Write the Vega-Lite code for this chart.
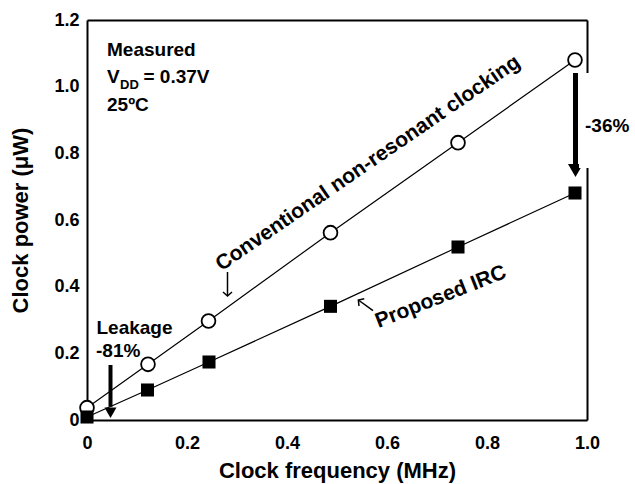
{
  "$schema": "https://vega.github.io/schema/vega-lite/v6.json",
  "width": 500,
  "height": 400,
  "autosize": {"type": "none"},
  "padding": {"left": 87, "top": 20, "right": 48, "bottom": 64},
  "background": "white",
  "config": {
    "view": {"stroke": null},
    "font": "Liberation Sans",
    "axis": {
      "domainColor": "black", "domainWidth": 2, "ticks": false,
      "labelFont": "Liberation Sans", "labelFontSize": 18, "labelFontWeight": "bold", "labelColor": "black",
      "titleFont": "Liberation Sans", "titleFontSize": 22, "titleFontWeight": "bold", "titleColor": "black",
      "grid": false, "zindex": 0, "labelOverlap": false, "labelFlush": false, "labelBound": false
    }
  },
  "datasets": {
    "series": [
      {"x": 0, "y": 0.037, "series": "Conventional"},
      {"x": 0.122, "y": 0.167, "series": "Conventional"},
      {"x": 0.243, "y": 0.297, "series": "Conventional"},
      {"x": 0.487, "y": 0.562, "series": "Conventional"},
      {"x": 0.742, "y": 0.832, "series": "Conventional"},
      {"x": 0.976, "y": 1.08, "series": "Conventional"},
      {"x": 0, "y": 0.009, "series": "Proposed"},
      {"x": 0.121, "y": 0.09, "series": "Proposed"},
      {"x": 0.244, "y": 0.174, "series": "Proposed"},
      {"x": 0.487, "y": 0.341, "series": "Proposed"},
      {"x": 0.742, "y": 0.519, "series": "Proposed"},
      {"x": 0.976, "y": 0.681, "series": "Proposed"}
    ],
    "xMaj": [{"x": 0.2}, {"x": 0.4}, {"x": 0.6}, {"x": 0.8}],
    "xMin": [{"x": 0.1}, {"x": 0.3}, {"x": 0.5}, {"x": 0.7}, {"x": 0.9}],
    "yMaj": [{"y": 0.2}, {"y": 0.4}, {"y": 0.6}, {"y": 0.8}, {"y": 1.0}],
    "yMin": [{"y": 0.1}, {"y": 0.3}, {"y": 0.5}, {"y": 0.7}, {"y": 0.9}, {"y": 1.1}]
  },
  "layer": [
    {
      "encoding": {
        "x": {"field": "x", "type": "quantitative",
          "scale": {"domain": [0, 1], "nice": false, "zero": false},
          "axis": {"orient": "bottom", "title": "Clock frequency (MHz)",
            "values": [0, 0.2, 0.4, 0.6, 0.8, 1.0],
            "labelExpr": "datum.value == 0 ? '0' : format(datum.value, '.1f')",
            "labelPadding": 14, "titlePadding": 8}},
        "y": {"field": "y", "type": "quantitative",
          "scale": {"domain": [0, 1.2], "nice": false, "zero": false},
          "axis": {"orient": "left", "title": "Clock power  (μW)",
            "values": [0, 0.2, 0.4, 0.6, 0.8, 1.0, 1.2],
            "labelExpr": "datum.value == 0 ? '0' : format(datum.value, '.1f')",
            "labelPadding": 8, "titlePadding": 21}}
      },
      "layer": [
        {
          "data": {"name": "xMaj"},
          "mark": {"type": "rule", "color": "black", "strokeWidth": 2.2},
          "encoding": {"y": {"datum": 0}, "y2": {"datum": 0.021}}
        },
        {
          "data": {"name": "xMaj"},
          "mark": {"type": "rule", "color": "black", "strokeWidth": 2.2},
          "encoding": {"y": {"datum": 1.2}, "y2": {"datum": 1.179}}
        },
        {
          "data": {"name": "xMin"},
          "mark": {"type": "rule", "color": "black", "strokeWidth": 2.2},
          "encoding": {"y": {"datum": 0}, "y2": {"datum": 0.013}}
        },
        {
          "data": {"name": "xMin"},
          "mark": {"type": "rule", "color": "black", "strokeWidth": 2.2},
          "encoding": {"y": {"datum": 1.2}, "y2": {"datum": 1.187}}
        },
        {
          "data": {"name": "yMaj"},
          "mark": {"type": "rule", "color": "black", "strokeWidth": 2.2},
          "encoding": {"x": {"datum": 0}, "x2": {"datum": 0.014}}
        },
        {
          "data": {"name": "yMaj"},
          "mark": {"type": "rule", "color": "black", "strokeWidth": 2.2},
          "encoding": {"x": {"datum": 1}, "x2": {"datum": 0.986}}
        },
        {
          "data": {"name": "yMin"},
          "mark": {"type": "rule", "color": "black", "strokeWidth": 2.2},
          "encoding": {"x": {"datum": 0}, "x2": {"datum": 0.009}}
        },
        {
          "data": {"name": "yMin"},
          "mark": {"type": "rule", "color": "black", "strokeWidth": 2.2},
          "encoding": {"x": {"datum": 1}, "x2": {"datum": 0.991}}
        },
        {
          "data": {"name": "series"},
          "mark": {"type": "line", "color": "black", "strokeWidth": 1.2},
          "encoding": {"detail": {"field": "series", "type": "nominal"}}
        },
        {
          "data": {"name": "series"},
          "transform": [{"filter": "datum.series == 'Conventional'"}],
          "mark": {"type": "point", "shape": "circle", "filled": true, "fill": "white", "stroke": "black", "strokeWidth": 1.8, "size": 190, "opacity": 1}
        },
        {
          "data": {"name": "series"},
          "transform": [{"filter": "datum.series == 'Proposed'"}],
          "mark": {"type": "point", "shape": "square", "filled": true, "fill": "black", "stroke": "black", "strokeWidth": 0, "size": 170, "opacity": 1}
        },
        {
          "data": {"values": [{"x": 0.977, "y": 1.041, "y2": 0.765}]},
          "mark": {"type": "rule", "color": "black", "strokeWidth": 5},
          "encoding": {"y2": {"field": "y2"}}
        },
        {
          "data": {"values": [{"x": 0.047, "y": 0.165, "y2": 0.04}]},
          "mark": {"type": "rule", "color": "black", "strokeWidth": 4},
          "encoding": {"y2": {"field": "y2"}}
        },
        {
          "data": {"values": [{"x": 0.977, "y": 0.7485}]},
          "mark": {"type": "point", "shape": "triangle-down", "filled": true, "color": "black", "size": 225, "opacity": 1}
        },
        {
          "data": {"values": [{"x": 0.047, "y": 0.0216}]},
          "mark": {"type": "point", "shape": "triangle-down", "filled": true, "color": "black", "size": 144, "opacity": 1}
        },
        {
          "data": {"values": [{"x": 0.281, "y": 0.444, "x2": 0.281, "y2": 0.374}, {"x": 0.5427, "y": 0.36, "x2": 0.572, "y2": 0.328}]},
          "mark": {"type": "rule", "color": "black", "strokeWidth": 1.5},
          "encoding": {"x2": {"field": "x2"}, "y2": {"field": "y2"}}
        },
        {
          "data": {"values": [{"x": 0.281, "y": 0.372}]},
          "mark": {"type": "point", "shape": "M-1,-0.9L0,0L1,-0.9", "filled": false, "stroke": "black", "strokeWidth": 1.5, "size": 81, "opacity": 1}
        },
        {
          "data": {"values": [{"x": 0.5427, "y": 0.36}]},
          "mark": {"type": "point", "shape": "M-1,-0.9L0,0L1,-0.9", "filled": false, "stroke": "black", "strokeWidth": 1.5, "size": 81, "angle": 126, "opacity": 1}
        },
        {
          "data": {"values": [
            {"x": 0.04, "y": 1.093, "label": "Measured"},
            {"x": 0.04, "y": 1.01, "label": "V"},
            {"x": 0.113, "y": 1.01, "label": "= 0.37V"},
            {"x": 0.04, "y": 0.927, "label": "25ºC"},
            {"x": 0.019, "y": 0.258, "label": "Leakage"},
            {"x": 0.018, "y": 0.19, "label": "-81%"}
          ]},
          "mark": {"type": "text", "align": "left", "baseline": "alphabetic", "font": "Liberation Sans", "fontWeight": "bold", "fontSize": 19, "color": "black"},
          "encoding": {"text": {"field": "label"}}
        },
        {
          "data": {"values": [{"x": 0.066, "y": 0.993, "label": "DD"}]},
          "mark": {"type": "text", "align": "left", "baseline": "alphabetic", "font": "Liberation Sans", "fontWeight": "bold", "fontSize": 13, "color": "black"},
          "encoding": {"text": {"field": "label"}}
        },
        {
          "data": {"values": [{"x": 0.569, "y": 0.755, "label": "Conventional non-resonant clocking"}]},
          "mark": {"type": "text", "align": "center", "baseline": "alphabetic", "angle": -34.5, "font": "Liberation Sans", "fontWeight": "bold", "fontSize": 21, "color": "black"},
          "encoding": {"text": {"field": "label"}}
        },
        {
          "data": {"values": [{"x": 0.712, "y": 0.352, "label": "Proposed IRC"}]},
          "mark": {"type": "text", "align": "center", "baseline": "alphabetic", "angle": -21.5, "font": "Liberation Sans", "fontWeight": "bold", "fontSize": 21, "color": "black"},
          "encoding": {"text": {"field": "label"}}
        }
      ]
    },
    {
      "encoding": {
        "x": {"field": "x", "type": "quantitative",
          "scale": {"domain": [0, 1], "nice": false, "zero": false},
          "axis": {"orient": "top", "title": null, "labels": false, "values": [0, 1.0]}},
        "y": {"field": "y", "type": "quantitative",
          "scale": {"domain": [0, 1.2], "nice": false, "zero": false},
          "axis": {"orient": "right", "title": null, "labels": false, "values": [0, 1.2]}}
      },
      "layer": [
        {
          "data": {"values": [{"x": 0.984, "x2": 1.01, "y": 1.041, "y2": 0.756}]},
          "mark": {"type": "rect", "color": "white"},
          "encoding": {"x2": {"field": "x2"}, "y2": {"field": "y2"}}
        },
        {
          "data": {"values": [{"x": 0.996, "y": 0.864, "label": "-36%"}]},
          "mark": {"type": "text", "align": "left", "baseline": "alphabetic", "font": "Liberation Sans", "fontWeight": "bold", "fontSize": 19, "color": "black"},
          "encoding": {"text": {"field": "label"}}
        }
      ]
    }
  ],
  "resolve": {"axis": {"x": "independent", "y": "independent"}}
}
